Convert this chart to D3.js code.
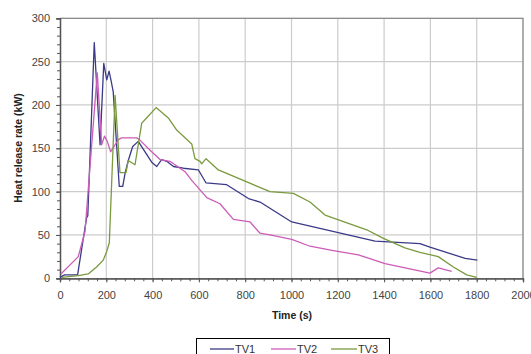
<!DOCTYPE html>
<html><head><meta charset="utf-8">
<script src="https://cdn.jsdelivr.net/npm/d3@7"></script>
<style>body{margin:0;background:#fff;}svg{display:block;font-family:"Liberation Sans",Arial,sans-serif;}</style>
</head><body><svg id="c" width="531" height="354"></svg>
<script>
const seriesNames = ["TV1","TV2","TV3"];
const seriesColors = ["#3a3a88","#cc5cb8","#7a9a3e"];
const tv1 = [[0,1],[20,4],[76,4],[115,70],[120,72],[148,272],[173,154],[189,248],[202,229],[212,239],[220,229],[230,215],[256,106],[271,106],[281,121],[295,136],[314,152],[338,158],[396,134],[418,129],[439,137],[461,135],[490,129],[533,127],[598,125],[631,110],[720,108],[814,92],[864,88],[1001,65],[1361,43],[1555,40],[1598,36],[1750,23],[1803,21]];
const tv2 = [[4,5],[79,25],[108,54],[161,237],[180,154],[192,164],[204,158],[219,146],[252,160],[266,162],[331,162],[343,160],[396,146],[432,137],[475,135],[540,123],[569,113],[605,102],[634,93],[691,86],[749,68],[821,65],[864,52],[907,50],[1001,45],[1080,37],[1181,32],[1289,27],[1404,17],[1598,6],[1634,12],[1692,8]];
const tv3 = [[7,1],[79,3],[122,5],[158,13],[187,21],[202,31],[213,41],[238,211],[259,122],[285,122],[295,136],[324,131],[353,179],[374,185],[415,197],[468,185],[504,171],[569,155],[583,138],[605,135],[612,132],[631,138],[684,125],[907,100],[1008,98],[1080,88],[1145,73],[1325,56],[1397,46],[1490,35],[1555,30],[1634,25],[1699,13],[1757,4],[1800,1]];
const xTicks = [0,200,400,600,800,1000,1200,1400,1600,1800,2000];
const yTicks = [0,50,100,150,200,250,300];
const allSeries = [tv1,tv2,tv3];

const svg = d3.select("#c");
const L=60,R=523,T=18.3,B=278.3;
const x = d3.scaleLinear().domain([0,2000]).range([L,R]);
const y = d3.scaleLinear().domain([0,300]).range([B,T]);

// grid
svg.append("g").selectAll("line").data(xTicks.slice(1)).join("line")
  .attr("x1",d=>x(d)).attr("x2",d=>x(d)).attr("y1",T).attr("y2",B)
  .attr("stroke","#cccccc").attr("stroke-width",1.2);
svg.append("g").selectAll("line").data(yTicks.slice(1)).join("line")
  .attr("x1",L).attr("x2",R).attr("y1",d=>y(d)).attr("y2",d=>y(d))
  .attr("stroke","#cccccc").attr("stroke-width",1.2);
// border top/right
svg.append("path").attr("d",`M${L},${T}H${R}V${B}`).attr("fill","none").attr("stroke","#8c8c8c").attr("stroke-width",1.2);

// axes
const xAxis = svg.append("g").attr("transform",`translate(0,${B})`)
  .call(d3.axisBottom(x).tickValues(xTicks).tickSize(4).tickPadding(9).tickFormat(d3.format("d")));
const xMinor = svg.append("g").attr("transform",`translate(0,${B})`)
  .call(d3.axisBottom(x).tickValues(d3.range(0,2001,40)).tickSize(3).tickFormat(""));
const yAxis = svg.append("g").attr("transform",`translate(${L},0)`)
  .call(d3.axisLeft(y).tickValues(yTicks).tickSize(4).tickPadding(6));
const yMinor = svg.append("g").attr("transform",`translate(${L},0)`)
  .call(d3.axisLeft(y).tickValues(d3.range(0,301,10)).tickSize(3).tickFormat(""));
[xAxis,xMinor,yAxis,yMinor].forEach(g=>{
  g.select(".domain").attr("stroke","#555").attr("stroke-width",1.3);
  g.selectAll(".tick line").attr("stroke","#555");
  g.selectAll("text").attr("font-size",11).attr("fill","#444").attr("font-family","Liberation Sans, Arial, sans-serif");
});

// lines
const line = d3.line().x(d=>x(d[0])).y(d=>y(d[1]));
allSeries.forEach((s,i)=>{
  svg.append("path").datum(s).attr("d",line).attr("fill","none")
    .attr("stroke",seriesColors[i]).attr("stroke-width",1.3).attr("stroke-linejoin","round");
});

// axis titles
svg.append("text").attr("x",292).attr("y",319).attr("text-anchor","middle")
  .attr("font-size",10.5).attr("font-weight","bold").attr("fill","#222").text("Time (s)");
svg.append("text").attr("transform","translate(22,148) rotate(-90)").attr("text-anchor","middle")
  .attr("font-size",10.5).attr("font-weight","bold").attr("fill","#222").text("Heat release rate (kW)");

// legend
svg.append("rect").attr("x",196.5).attr("y",338.5).attr("width",193).attr("height",30)
  .attr("fill","#fff").attr("stroke","#000").attr("stroke-width",1);
const legX = [[210,234],[271,296],[331,357]];
seriesNames.forEach((n,i)=>{
  svg.append("line").attr("x1",legX[i][0]).attr("x2",legX[i][1]).attr("y1",349).attr("y2",349)
    .attr("stroke",seriesColors[i]).attr("stroke-width",1.3);
  svg.append("text").attr("x",legX[i][1]+1).attr("y",353).attr("font-size",11).attr("fill","#333").text(n);
});
</script></body></html>
